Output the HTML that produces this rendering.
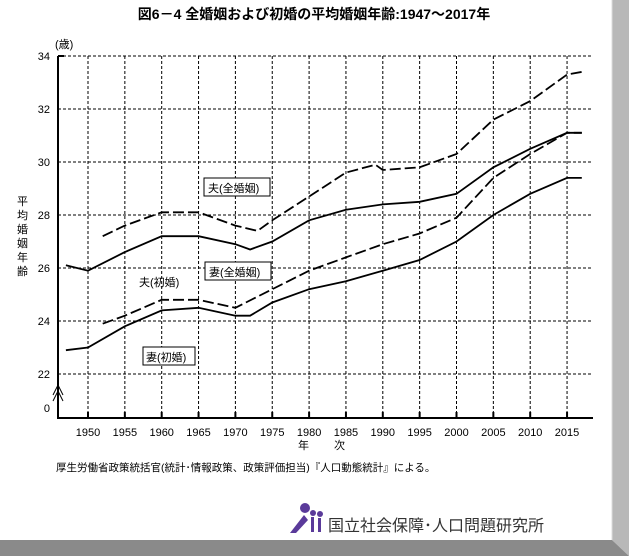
<!DOCTYPE html><html><head><meta charset="utf-8"><style>
body{margin:0;background:#fff;}
svg{display:block;font-family:"Liberation Sans","Noto Sans CJK JP",sans-serif;}
</style></head><body>
<svg id="s" width="629" height="556" viewBox="0 0 629 556" xmlns="http://www.w3.org/2000/svg">
<rect width="629" height="556" fill="#fff"/>
<polygon points="612,0 629,0 629,556 612,540" fill="#b8b8b8"/>
<polygon points="0,540 612,540 629,556 0,556" fill="#8a8a8a"/>
<line x1="612" y1="0" x2="612" y2="540" stroke="#ddd"/>
<text x="314" y="19" font-size="14" font-weight="bold" text-anchor="middle">図6－4 全婚姻および初婚の平均婚姻年齢:1947～2017年</text>
<text x="55" y="48" font-size="11">(歳)</text>
<g id="grid" stroke="#000" stroke-width="1" stroke-dasharray="3,2"></g>
<g id="axes"></g>
<g id="lines" fill="none" stroke="#000" stroke-width="1.8"></g>
<g font-size="11">
<rect x="204" y="178" width="66" height="18" fill="#fff" stroke="#000"/><text x="208" y="192">夫(全婚姻)</text>
<text x="139" y="286">夫(初婚)</text>
<rect x="205" y="262" width="66" height="18" fill="#fff" stroke="#000"/><text x="209" y="276">妻(全婚姻)</text>
<rect x="143" y="347" width="52" height="18" fill="#fff" stroke="#000"/><text x="146" y="361">妻(初婚)</text>
</g>
<g font-size="11">
<text x="17" y="205">平</text><text x="17" y="219">均</text><text x="17" y="233">婚</text><text x="17" y="247">姻</text><text x="17" y="261">年</text><text x="17" y="275">齢</text>
</g>
<text x="298" y="449" font-size="11">年</text><text x="334" y="449" font-size="11">次</text>
<text x="56" y="471" font-size="10.5">厚生労働省政策統括官(統計･情報政策、政策評価担当)『人口動態統計』による。</text>
<g fill="#5a3a9a"><circle cx="305" cy="508" r="5"/><path d="M290 533 L304 515 L308 520 L296 533Z"/><circle cx="313" cy="513" r="3"/><rect x="311" y="517" width="3" height="15"/><circle cx="320" cy="514" r="3"/><rect x="318" y="518" width="3" height="14"/></g>
<text x="328" y="531" font-size="16" fill="#333">国立社会保障･人口問題研究所</text>
</svg>
<script>
const NS="http://www.w3.org/2000/svg",s=document.getElementById('s');
const X=y=>88+(y-1950)*7.37, Y=v=>56+(34-v)*26.5;
function el(p,t,a,txt){const e=document.createElementNS(NS,t);for(const k in a)e.setAttribute(k,a[k]);if(txt)e.textContent=txt;document.getElementById(p).appendChild(e);return e;}
for(let v=22;v<=34;v+=2)el('grid','line',{x1:58,y1:Y(v),x2:593,y2:Y(v)});
for(let y=1950;y<=2015;y+=5)el('grid','line',{x1:X(y),y1:56,x2:X(y),y2:418});
el('axes','line',{x1:58,y1:56,x2:58,y2:418,stroke:'#000','stroke-width':2});
el('axes','line',{x1:57,y1:418,x2:593,y2:418,stroke:'#000','stroke-width':2});
for(let y=1950;y<=2015;y+=5){el('axes','line',{x1:X(y),y1:412,x2:X(y),y2:418,stroke:'#000','stroke-width':2});el('axes','text',{x:X(y),y:436,'font-size':11,'text-anchor':'middle'},String(y));}
el('axes','line',{x1:58,y1:56,x2:64,y2:56,stroke:'#000','stroke-width':2});
for(let v=22;v<=34;v+=2)el('axes','text',{x:50,y:Y(v)+4,'font-size':11,'text-anchor':'end'},String(v));
el('axes','text',{x:50,y:412,'font-size':11,'text-anchor':'end'},'0');
el('axes','path',{d:'M53 395 L58 385 L63 395 M53 401 L58 391 L63 401',fill:'none',stroke:'#000'});
const D={
ha:[[1952,27.2],[1955,27.6],[1960,28.1],[1965,28.1],[1970,27.6],[1973,27.4],[1975,27.8],[1980,28.7],[1985,29.6],[1989,29.9],[1990,29.7],[1995,29.8],[2000,30.3],[2005,31.6],[2010,32.3],[2015,33.3],[2017,33.4]],
hf:[[1947,26.1],[1950,25.9],[1955,26.6],[1960,27.2],[1965,27.2],[1970,26.9],[1972,26.7],[1975,27.0],[1980,27.8],[1985,28.2],[1990,28.4],[1995,28.5],[2000,28.8],[2005,29.8],[2010,30.5],[2015,31.1],[2017,31.1]],
wa:[[1952,23.9],[1955,24.2],[1960,24.8],[1965,24.8],[1970,24.5],[1975,25.2],[1980,25.9],[1985,26.4],[1990,26.9],[1995,27.3],[2000,27.9],[2005,29.4],[2010,30.3],[2015,31.1],[2017,31.1]],
wf:[[1947,22.9],[1950,23.0],[1955,23.8],[1960,24.4],[1965,24.5],[1970,24.2],[1972,24.2],[1975,24.7],[1980,25.2],[1985,25.5],[1990,25.9],[1995,26.3],[2000,27.0],[2005,28.0],[2010,28.8],[2015,29.4],[2017,29.4]]};
for(const k in D){const a={points:D[k].map(p=>X(p[0]).toFixed(1)+','+Y(p[1]).toFixed(1)).join(' ')};if(k[1]=='a')a['stroke-dasharray']='11,4';el('lines','polyline',a);}
</script>
</body></html>
